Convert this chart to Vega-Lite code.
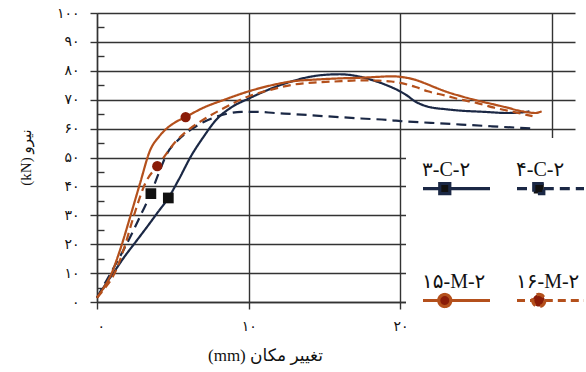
{
  "$schema": "https://vega.github.io/schema/vega-lite/v6.json",
  "width": 478,
  "height": 289,
  "autosize": {"type": "none"},
  "padding": {"left": 97, "top": 13, "right": 11, "bottom": 70},
  "background": "white",
  "config": {
    "view": {"stroke": null},
    "font": "Liberation Serif",
    "axis": {
      "labelFont": "Liberation Serif, DejaVu Sans",
      "labelFontSize": 14,
      "labelColor": "#111111",
      "titleFont": "Liberation Serif, DejaVu Sans",
      "titleFontSize": 17,
      "titleFontWeight": "normal",
      "titleColor": "#111111",
      "gridColor": "#333333",
      "gridWidth": 1.4,
      "gridOpacity": 1,
      "domainColor": "#333333",
      "domainWidth": 1.4,
      "tickColor": "#333333",
      "tickWidth": 1.4
    }
  },
  "datasets": {
    "curves": [
      {"series": "۳-C-۲", "x": 0, "y": 1.5}, {"series": "۳-C-۲", "x": 0.5, "y": 5.6}, {"series": "۳-C-۲", "x": 1.1, "y": 10.2}, {"series": "۳-C-۲", "x": 1.8, "y": 15.6}, {"series": "۳-C-۲", "x": 2.55, "y": 20.8}, {"series": "۳-C-۲", "x": 3.3, "y": 26}, {"series": "۳-C-۲", "x": 4, "y": 31}, {"series": "۳-C-۲", "x": 4.7, "y": 36}, {"series": "۳-C-۲", "x": 5.4, "y": 42.5}, {"series": "۳-C-۲", "x": 6.2, "y": 50.5}, {"series": "۳-C-۲", "x": 7, "y": 57}, {"series": "۳-C-۲", "x": 7.9, "y": 63.3}, {"series": "۳-C-۲", "x": 8.9, "y": 67.5}, {"series": "۳-C-۲", "x": 10, "y": 70.4}, {"series": "۳-C-۲", "x": 11, "y": 72.8}, {"series": "۳-C-۲", "x": 12, "y": 74.9}, {"series": "۳-C-۲", "x": 13, "y": 76.6}, {"series": "۳-C-۲", "x": 14, "y": 77.9}, {"series": "۳-C-۲", "x": 15, "y": 78.6}, {"series": "۳-C-۲", "x": 16, "y": 78.8}, {"series": "۳-C-۲", "x": 17, "y": 78.3}, {"series": "۳-C-۲", "x": 18, "y": 77}, {"series": "۳-C-۲", "x": 19, "y": 75.2}, {"series": "۳-C-۲", "x": 20, "y": 72.8}, {"series": "۳-C-۲", "x": 20.5, "y": 71.2}, {"series": "۳-C-۲", "x": 20.9, "y": 69.6}, {"series": "۳-C-۲", "x": 21.4, "y": 68.3}, {"series": "۳-C-۲", "x": 21.8, "y": 67.6}, {"series": "۳-C-۲", "x": 23, "y": 66.7}, {"series": "۳-C-۲", "x": 24, "y": 66.2}, {"series": "۳-C-۲", "x": 25.5, "y": 65.8}, {"series": "۳-C-۲", "x": 27, "y": 65.4}, {"series": "۳-C-۲", "x": 28, "y": 65.6}, {"series": "۳-C-۲", "x": 28.5, "y": 66},
      {"series": "۴-C-۲", "x": 0, "y": 1.5}, {"series": "۴-C-۲", "x": 0.6, "y": 7.2}, {"series": "۴-C-۲", "x": 1.2, "y": 12.8}, {"series": "۴-C-۲", "x": 1.8, "y": 18.5}, {"series": "۴-C-۲", "x": 2.35, "y": 24.2}, {"series": "۴-C-۲", "x": 2.9, "y": 30.3}, {"series": "۴-C-۲", "x": 3.55, "y": 37.5}, {"series": "۴-C-۲", "x": 4.1, "y": 45}, {"series": "۴-C-۲", "x": 4.63, "y": 51.5}, {"series": "۴-C-۲", "x": 5.3, "y": 55.8}, {"series": "۴-C-۲", "x": 6.2, "y": 59.7}, {"series": "۴-C-۲", "x": 7, "y": 62.2}, {"series": "۴-C-۲", "x": 7.9, "y": 64.2}, {"series": "۴-C-۲", "x": 8.7, "y": 65.3}, {"series": "۴-C-۲", "x": 9.5, "y": 65.8}, {"series": "۴-C-۲", "x": 10.5, "y": 65.8}, {"series": "۴-C-۲", "x": 11.7, "y": 65.4}, {"series": "۴-C-۲", "x": 13, "y": 65}, {"series": "۴-C-۲", "x": 15, "y": 64.3}, {"series": "۴-C-۲", "x": 17.4, "y": 63.5}, {"series": "۴-C-۲", "x": 19.4, "y": 62.9}, {"series": "۴-C-۲", "x": 20, "y": 62.6}, {"series": "۴-C-۲", "x": 22, "y": 62}, {"series": "۴-C-۲", "x": 24, "y": 61.4}, {"series": "۴-C-۲", "x": 26, "y": 60.8}, {"series": "۴-C-۲", "x": 28.9, "y": 60},
      {"series": "۱۵-M-۲", "x": 0, "y": 1.5}, {"series": "۱۵-M-۲", "x": 0.45, "y": 5}, {"series": "۱۵-M-۲", "x": 0.9, "y": 9.2}, {"series": "۱۵-M-۲", "x": 1.55, "y": 18.5}, {"series": "۱۵-M-۲", "x": 2.2, "y": 29.7}, {"series": "۱۵-M-۲", "x": 2.85, "y": 41.3}, {"series": "۱۵-M-۲", "x": 3.5, "y": 52.5}, {"series": "۱۵-M-۲", "x": 4.1, "y": 57.3}, {"series": "۱۵-M-۲", "x": 4.63, "y": 60.2}, {"series": "۱۵-M-۲", "x": 5.1, "y": 62}, {"series": "۱۵-M-۲", "x": 5.84, "y": 64}, {"series": "۱۵-M-۲", "x": 7, "y": 67.2}, {"series": "۱۵-M-۲", "x": 8.4, "y": 70}, {"series": "۱۵-M-۲", "x": 10, "y": 72.9}, {"series": "۱۵-M-۲", "x": 11.5, "y": 75}, {"series": "۱۵-M-۲", "x": 12.8, "y": 76.3}, {"series": "۱۵-M-۲", "x": 14.5, "y": 77}, {"series": "۱۵-M-۲", "x": 16.1, "y": 77.4}, {"series": "۱۵-M-۲", "x": 17.4, "y": 77.6}, {"series": "۱۵-M-۲", "x": 18.5, "y": 77.9}, {"series": "۱۵-M-۲", "x": 19.4, "y": 78.1}, {"series": "۱۵-M-۲", "x": 20, "y": 77.9}, {"series": "۱۵-M-۲", "x": 20.9, "y": 77}, {"series": "۱۵-M-۲", "x": 21.6, "y": 75.7}, {"series": "۱۵-M-۲", "x": 22.3, "y": 74.2}, {"series": "۱۵-M-۲", "x": 23, "y": 72.8}, {"series": "۱۵-M-۲", "x": 24, "y": 71.2}, {"series": "۱۵-M-۲", "x": 25, "y": 69.8}, {"series": "۱۵-M-۲", "x": 26.2, "y": 68.3}, {"series": "۱۵-M-۲", "x": 27, "y": 67.3}, {"series": "۱۵-M-۲", "x": 28, "y": 66}, {"series": "۱۵-M-۲", "x": 28.9, "y": 65.4}, {"series": "۱۵-M-۲", "x": 29.3, "y": 66},
      {"series": "۱۶-M-۲", "x": 0, "y": 1.5}, {"series": "۱۶-M-۲", "x": 0.55, "y": 5}, {"series": "۱۶-M-۲", "x": 1.1, "y": 9.3}, {"series": "۱۶-M-۲", "x": 1.76, "y": 18.2}, {"series": "۱۶-M-۲", "x": 2.42, "y": 29.7}, {"series": "۱۶-M-۲", "x": 3.2, "y": 41.3}, {"series": "۱۶-M-۲", "x": 3.97, "y": 47}, {"series": "۱۶-M-۲", "x": 4.6, "y": 51.5}, {"series": "۱۶-M-۲", "x": 5.1, "y": 55}, {"series": "۱۶-M-۲", "x": 5.8, "y": 58.6}, {"series": "۱۶-M-۲", "x": 6.8, "y": 62.4}, {"series": "۱۶-M-۲", "x": 8.4, "y": 67.2}, {"series": "۱۶-M-۲", "x": 10, "y": 71.2}, {"series": "۱۶-M-۲", "x": 11.5, "y": 73.5}, {"series": "۱۶-M-۲", "x": 12.8, "y": 75.1}, {"series": "۱۶-M-۲", "x": 14.5, "y": 76}, {"series": "۱۶-M-۲", "x": 16.1, "y": 76.4}, {"series": "۱۶-M-۲", "x": 17.4, "y": 76.7}, {"series": "۱۶-M-۲", "x": 18.5, "y": 76.6}, {"series": "۱۶-M-۲", "x": 19.4, "y": 76.3}, {"series": "۱۶-M-۲", "x": 20, "y": 75.8}, {"series": "۱۶-M-۲", "x": 21, "y": 74.4}, {"series": "۱۶-M-۲", "x": 21.8, "y": 72.9}, {"series": "۱۶-M-۲", "x": 23, "y": 71.4}, {"series": "۱۶-M-۲", "x": 24, "y": 70}, {"series": "۱۶-M-۲", "x": 25, "y": 68.9}, {"series": "۱۶-M-۲", "x": 26.2, "y": 67.2}, {"series": "۱۶-M-۲", "x": 27.5, "y": 65.7}, {"series": "۱۶-M-۲", "x": 28.7, "y": 64.3}
    ],
    "squares": [
      {"series": "۳-C-۲", "x": 4.7, "y": 36},
      {"series": "۴-C-۲", "x": 3.55, "y": 37.5}
    ],
    "circles": [
      {"series": "۱۵-M-۲", "x": 5.84, "y": 64},
      {"series": "۱۶-M-۲", "x": 3.97, "y": 47}
    ]
  },
  "layer": [
    {
      "data": {"name": "curves"},
      "mark": {"type": "line", "interpolate": "monotone", "strokeWidth": 2.2},
      "encoding": {
        "x": {
          "field": "x", "type": "quantitative",
          "scale": {"domain": [0, 31.5], "nice": false, "zero": false},
          "axis": {
            "values": [0, 10, 20, 30],
            "grid": true,
            "tickSize": 7,
            "labelPadding": 10,
            "labelBaseline": "top",
            "labelExpr": "datum.value == 30 ? '' : ['۰','۱۰','۲۰','۳۰'][round(datum.value / 10)]",
            "title": "(mm) تغییر مکان",
            "titleX": 168,
            "titleY": 53,
            "titleAlign": "center",
            "titleBaseline": "middle"
          }
        },
        "y": {
          "field": "y", "type": "quantitative",
          "scale": {"domain": [0, 100], "nice": false},
          "axis": {
            "values": [0, 10, 20, 30, 40, 50, 60, 70, 80, 90, 100],
            "grid": true,
            "tickSize": 7,
            "labelPadding": 11,
            "labelExpr": "['۰','۱۰','۲۰','۳۰','۴۰','۵۰','۶۰','۷۰','۸۰','۹۰','۱۰۰'][round(datum.value / 10)]",
            "title": "(kN) نیرو",
            "titleX": -72,
            "titleY": 144,
            "titleAngle": -90,
            "titleAlign": "center",
            "titleBaseline": "middle",
            "titleFontSize": 15
          }
        },
        "color": {
          "field": "series", "type": "nominal",
          "scale": {
            "domain": ["۳-C-۲", "۴-C-۲", "۱۵-M-۲", "۱۶-M-۲"],
            "range": ["#1b2845", "#1b2845", "#b4501c", "#b4501c"]
          },
          "legend": {
            "orient": "none",
            "legendX": 309,
            "legendY": 125,
            "direction": "horizontal",
            "columns": 2,
            "title": " ",
            "titleOrient": "bottom",
            "titleFontSize": 14,
            "titlePadding": 10,
            "fillColor": "white",
            "padding": 15,
            "symbolSize": 4489,
            "symbolStrokeWidth": 3,
            "labelOffset": -70,
            "labelAlign": "left",
            "labelFont": "Liberation Serif, DejaVu Sans",
            "labelFontSize": 20,
            "labelColor": "#111111",
            "columnPadding": 13,
            "rowPadding": 65,
            "encode": {
              "symbols": {
                "update": {
                  "shape": {"signal": "indexof(['۱۵-M-۲','۱۶-M-۲'], datum.value) >= 0 ? 'M-1,0H-0.53M-0.17,0H1M-0.17,0A0.18,0.18 0 1,1 -0.53,0A0.18,0.18 0 1,1 -0.17,0Z' : 'M-1,0H-0.5M-0.2,0H1M-0.5,-0.15H-0.2V0.15H-0.5Z'"},
                  "fill": {"signal": "indexof(['۱۵-M-۲','۱۶-M-۲'], datum.value) >= 0 ? '#8a1c08' : '#111111'"},
                  "strokeDash": {"signal": "indexof(['۴-C-۲','۱۶-M-۲'], datum.value) >= 0 ? [9, 6] : [1, 0]"},
                  "strokeWidth": {"value": 3.2},
                  "opacity": {"value": 1}
                }
              },
              "labels": {"update": {"dy": {"value": -19}}}
            }
          }
        },
        "strokeDash": {
          "field": "series", "type": "nominal",
          "scale": {
            "domain": ["۳-C-۲", "۴-C-۲", "۱۵-M-۲", "۱۶-M-۲"],
            "range": [[1, 0], [10, 6], [1, 0], [8, 5]]
          },
          "legend": null
        }
      }
    },
    {
      "data": {"name": "squares"},
      "mark": {"type": "point", "shape": "square", "filled": true, "opacity": 1, "size": 115, "color": "#111111"},
      "encoding": {
        "x": {"field": "x", "type": "quantitative"},
        "y": {
          "field": "y", "type": "quantitative",
          "scale": {"domain": [0, 100], "nice": false},
          "axis": {
            "orient": "left",
            "values": [5, 15, 25, 35, 45, 55, 65, 75, 85, 95],
            "labels": false,
            "grid": false,
            "domain": false,
            "ticks": true,
            "tickSize": -7,
            "title": null
          }
        }
      }
    },
    {
      "data": {"name": "circles"},
      "mark": {"type": "point", "shape": "circle", "filled": true, "opacity": 1, "size": 105, "color": "#8a1c08"},
      "encoding": {
        "x": {"field": "x", "type": "quantitative"},
        "y": {
          "field": "y", "type": "quantitative",
          "scale": {"domain": [0, 100], "nice": false},
          "axis": null
        }
      }
    }
  ],
  "resolve": {"axis": {"y": "independent"}}
}
